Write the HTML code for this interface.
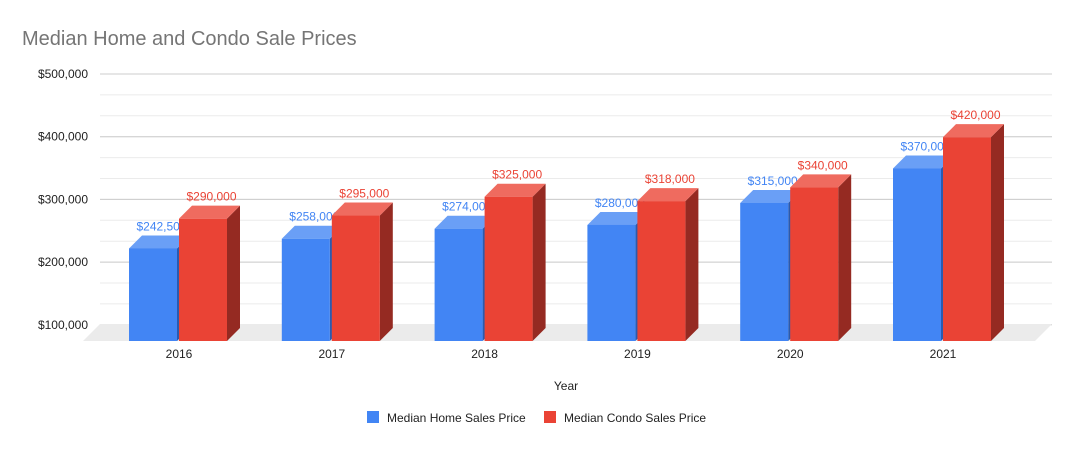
<!DOCTYPE html>
<html><head><meta charset="utf-8"><style>
body{margin:0;background:#fff;}
svg{display:block;font-family:"Liberation Sans",sans-serif;}
</style></head><body>
<svg id="chart" width="1074" height="449" viewBox="0 0 1074 449">
<rect width="1074" height="449" fill="#fff"/>
<text x="22" y="45" font-size="20" fill="#757575">Median Home and Condo Sale Prices</text>
<g id="grid"></g>
<polygon points="100,324 1052,324 1035,341 83,341" fill="#ebebeb"/>
<g id="bars"></g>
<text x="566" y="390" font-size="12" text-anchor="middle" fill="#222">Year</text>
<g>
<rect x="367" y="411" width="12" height="12" fill="#4285f4"/>
<text x="387" y="422" font-size="12" fill="#222">Median Home Sales Price</text>
<rect x="544" y="411" width="12" height="12" fill="#ea4335"/>
<text x="564" y="422" font-size="12" fill="#222">Median Condo Sales Price</text>
</g>
</svg>
<script>
const years = ["2016","2017","2018","2019","2020","2021"];
const homePrices = [242500,258000,274000,280000,315000,370000];
const condoPrices = [290000,295000,325000,318000,340000,420000];
const yTicks = [100000,200000,300000,400000,500000];
const yTickLabels = ["$100,000","$200,000","$300,000","$400,000","$500,000"];

const NS="http://www.w3.org/2000/svg";
const grid=document.getElementById('grid'), bars=document.getElementById('bars');
const yMin=100000, k=0.627/1000, backBase=324.8, D=13;
function yBack(v){return backBase-(v-yMin)*k;}
function yFront(v){return yBack(v)+D;}
function xGroup(i){return 129+i*152.8;}
function mk(tag,attrs,parent){const e=document.createElementNS(NS,tag);for(const a in attrs)e.setAttribute(a,attrs[a]);parent.appendChild(e);return e;}
function fmt(v){return "$"+v.toLocaleString("en-US");}

// minor grid
for(let v=yMin;v<=500000;v+=33333.33){
  const l=mk('line',{x1:100,x2:1052,y1:yBack(v),y2:yBack(v),stroke:'#ebebeb','stroke-width':1},grid);
  
  
}
yTicks.forEach((v,i)=>{
  const l=mk('line',{x1:100,x2:1052,y1:yBack(v),y2:yBack(v),stroke:'#cccccc','stroke-width':1},grid);
  
  
  const t=mk('text',{x:88,y:yBack(v)+4,'font-size':12,'text-anchor':'end',fill:'#222'},grid);
  t.textContent=yTickLabels[i];
  
  
});

function bar(x,v,front,top,side,labelColor,name){
  const g=mk('g',{},bars);
  
  
  const w=48, yb=341, yt=yFront(v);
  mk('polygon',{points:`${x+w},${yt} ${x+w+D},${yt-D} ${x+w+D},${yb-D} ${x+w},${yb}`,fill:side},g);
  mk('polygon',{points:`${x},${yt} ${x+D},${yt-D} ${x+w+D},${yt-D} ${x+w},${yt}`,fill:top},g);
  mk('rect',{x:x,y:yt,width:w,height:yb-yt,fill:front},g);
  const t=mk('text',{x:x+w/2+D/2+2,y:yt-D-5,'font-size':12,'text-anchor':'middle',fill:labelColor},g);
  t.textContent=fmt(v);
  
  
}
years.forEach((yr,i)=>{
  const x=xGroup(i);
  bar(x,homePrices[i],'#4285f4','#6a9ff6','#2a5bb0','#4285f4','home-bar-'+yr);
  bar(x+50,condoPrices[i],'#ea4335','#ef6b5f','#952a22','#ea4335','condo-bar-'+yr);
  const t=mk('text',{x:x+50,y:358,'font-size':12,'text-anchor':'middle',fill:'#222'},bars);
  t.textContent=yr;
  
  
});
</script>
</body></html>
